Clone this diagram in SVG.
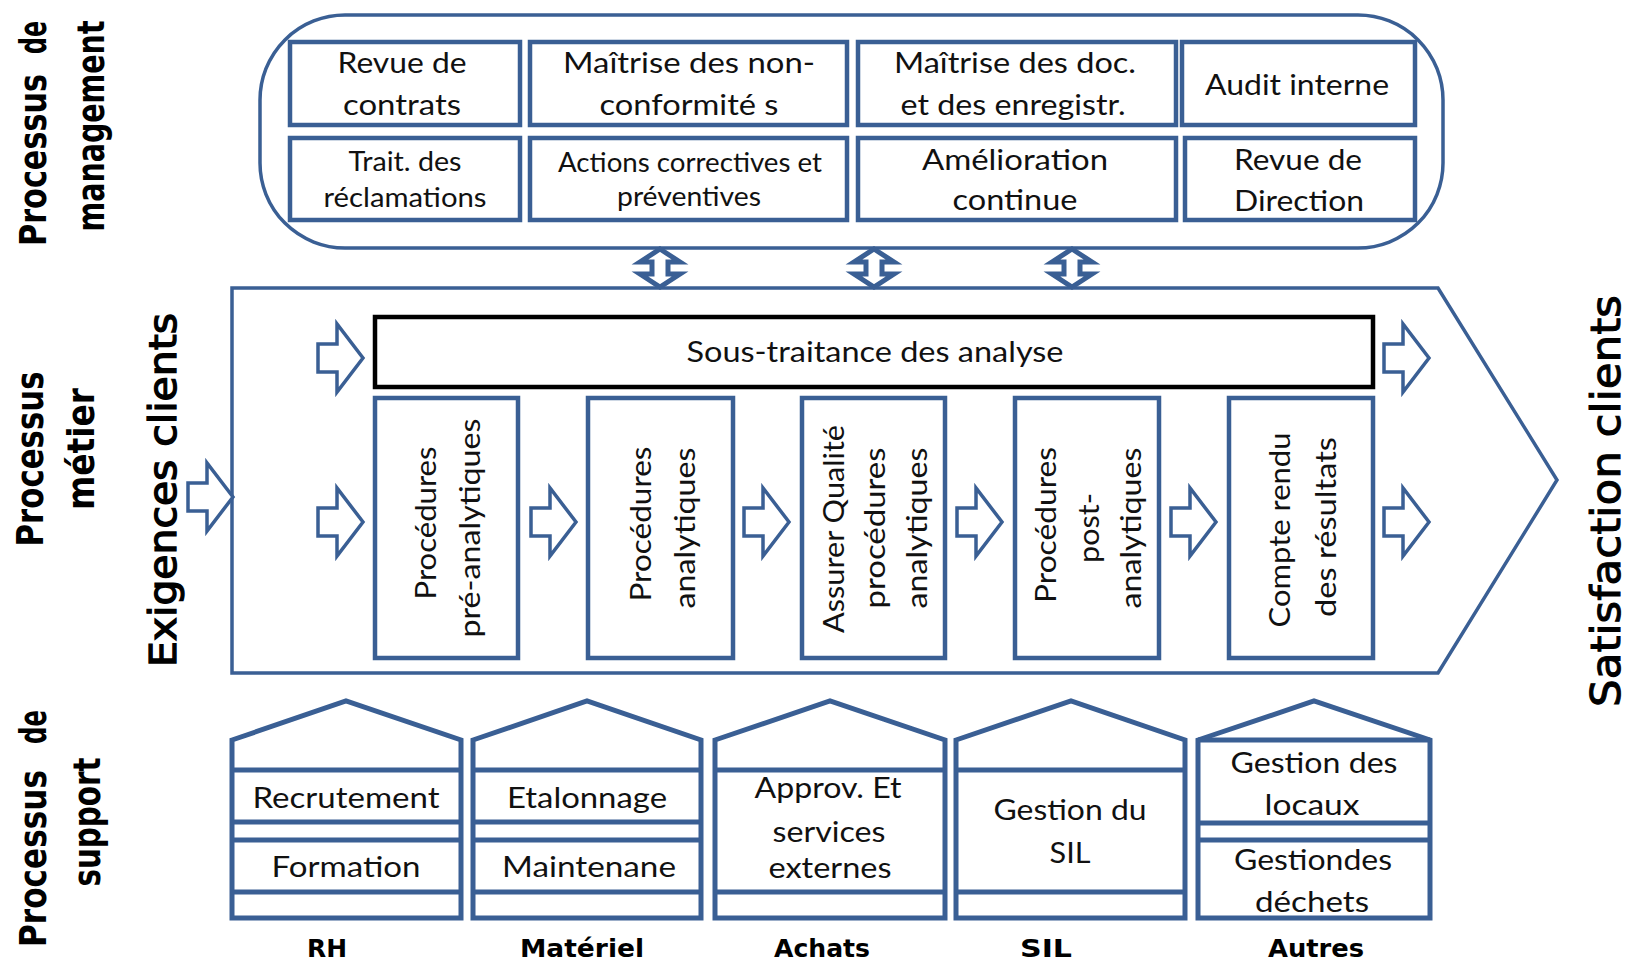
<svg xmlns="http://www.w3.org/2000/svg" width="1630" height="964" viewBox="0 0 1630 964">
<style>
.bg{fill:#fff}
.box{fill:#fff;stroke:#3A5F94;stroke-width:4.5}
.outer{fill:none;stroke:#3A5F94;stroke-width:3.5}
.blk{fill:#fff;stroke:#000;stroke-width:4.5}
.house{fill:#fff;stroke:#3A5F94;stroke-width:5;stroke-linejoin:miter}
.hl{stroke:#3A5F94;stroke-width:5}
.arr{fill:#fff;stroke:#3A5F94;stroke-width:3.5;stroke-linejoin:miter}
.darr{fill:#fff;stroke:#3A5F94;stroke-width:5;stroke-linejoin:miter}
.t{font-family:Lato,"Liberation Sans",sans-serif;font-size:29px;fill:#111;text-anchor:middle}
.s{font-size:26px}
.lb{font-family:"DejaVu Sans",sans-serif;font-weight:bold;font-size:38px;fill:#000}
.big{font-family:"DejaVu Sans",sans-serif;fill:#000;text-anchor:middle}
.hd{font-family:"DejaVu Sans",sans-serif;font-weight:bold;font-size:24px;fill:#000;text-anchor:middle}
</style>
<defs>
<path id="rarrow" d="M0,-14 H19 V-34 L45,0 L19,34 V14 H0 Z"/>
<path id="udarrow" d="M0,-19 L20,-6 H8 V6 H20 L0,19 L-20,6 H-8 V-6 H-20 Z"/>
</defs>
<rect class="bg" x="0" y="0" width="1630" height="964"/>

<!-- Side labels -->
<g id="label-management">
<text class="lb" transform="translate(46,246) rotate(-90)" textLength="172" lengthAdjust="spacingAndGlyphs">Processus</text>
<text class="lb" transform="translate(46,54) rotate(-90)" textLength="33" lengthAdjust="spacingAndGlyphs">de</text>
<text class="lb" text-anchor="middle" transform="translate(104,126) rotate(-90) scale(0.75,1)">management</text>
</g>
<g id="label-metier">
<text class="lb" text-anchor="middle" transform="translate(43,459) rotate(-90)" textLength="175" lengthAdjust="spacingAndGlyphs">Processus</text>
<text class="lb" text-anchor="middle" transform="translate(94,449) rotate(-90)" textLength="122" lengthAdjust="spacingAndGlyphs">métier</text>
</g>
<g id="label-support">
<text class="lb" transform="translate(46,947) rotate(-90)" textLength="177" lengthAdjust="spacingAndGlyphs">Processus</text>
<text class="lb" transform="translate(46,744) rotate(-90)" textLength="34" lengthAdjust="spacingAndGlyphs">de</text>
<text class="lb" text-anchor="middle" transform="translate(100,822) rotate(-90)" textLength="129" lengthAdjust="spacingAndGlyphs">support</text>
</g>
<g id="label-exigences">
<text class="big" style="font-size:37px" transform="translate(176,490) rotate(-90)" textLength="354" lengthAdjust="spacingAndGlyphs" stroke="#000" stroke-width="1.3">Exigences clients</text>
</g>
<g id="label-satisfaction">
<text class="big" style="font-size:41px" transform="translate(1620,501) rotate(-90)" textLength="412" lengthAdjust="spacingAndGlyphs" stroke="#000" stroke-width="1">Satisfaction clients</text>
</g>

<!-- Management -->
<g id="management">
<rect class="outer" x="260" y="15" width="1183" height="233" rx="85" ry="85"/>
</g>
<g id="revue-contrats">
<rect class="box" x="290" y="42" width="230" height="83"/>
<text class="t" x="402" y="73" textLength="129" lengthAdjust="spacingAndGlyphs">Revue de</text>
<text class="t" x="402" y="115" textLength="118" lengthAdjust="spacingAndGlyphs">contrats</text>
</g>
<g id="maitrise-nc">
<rect class="box" x="530" y="42" width="317" height="83"/>
<text class="t" x="689" y="73" textLength="252" lengthAdjust="spacingAndGlyphs">Maîtrise des non-</text>
<text class="t" x="689" y="115" textLength="179" lengthAdjust="spacingAndGlyphs">conformité s</text>
</g>
<g id="maitrise-doc">
<rect class="box" x="858" y="42" width="318" height="83"/>
<text class="t" x="1015" y="73" textLength="242" lengthAdjust="spacingAndGlyphs">Maîtrise des doc.</text>
<text class="t" x="1013" y="115" textLength="225" lengthAdjust="spacingAndGlyphs">et des enregistr.</text>
</g>
<g id="audit-interne">
<rect class="box" x="1182" y="42" width="233" height="83"/>
<text class="t" x="1297" y="95" textLength="184" lengthAdjust="spacingAndGlyphs">Audit interne</text>
</g>
<g id="trait-reclamations">
<rect class="box" x="290" y="138" width="230" height="82"/>
<text class="t s" x="405" y="171" textLength="113" lengthAdjust="spacingAndGlyphs">Trait. des</text>
<text class="t s" x="405" y="207" textLength="163" lengthAdjust="spacingAndGlyphs">réclamations</text>
</g>
<g id="actions-correctives">
<rect class="box" x="530" y="138" width="317" height="82"/>
<text class="t s" x="690" y="172" textLength="264" lengthAdjust="spacingAndGlyphs">Actions correctives et</text>
<text class="t s" x="689" y="206" textLength="144" lengthAdjust="spacingAndGlyphs">préventives</text>
</g>
<g id="amelioration">
<rect class="box" x="858" y="138" width="318" height="82"/>
<text class="t" x="1015" y="170" textLength="186" lengthAdjust="spacingAndGlyphs">Amélioration</text>
<text class="t" x="1015" y="210" textLength="125" lengthAdjust="spacingAndGlyphs">continue</text>
</g>
<g id="revue-direction">
<rect class="box" x="1185" y="138" width="230" height="82"/>
<text class="t" x="1298" y="170" textLength="128" lengthAdjust="spacingAndGlyphs">Revue de</text>
<text class="t" x="1299" y="211" textLength="130" lengthAdjust="spacingAndGlyphs">Direction</text>
</g>

<!-- Métier -->
<g id="metier">
<path class="outer" d="M232,288 H1438 L1557,480 L1438,673 H232 Z"/>
</g>
<g id="sous-traitance">
<rect class="blk" x="375" y="317" width="998" height="70"/>
<text class="t" x="875" y="362" textLength="377" lengthAdjust="spacingAndGlyphs">Sous-traitance des analyse</text>
</g>
<g id="pre-analytiques">
<rect class="box" x="375" y="398" width="143" height="260"/>
<text class="t" transform="translate(436,523) rotate(-90)" textLength="153" lengthAdjust="spacingAndGlyphs">Procédures</text>
<text class="t" transform="translate(480,528) rotate(-90)" textLength="219" lengthAdjust="spacingAndGlyphs">pré-analytiques</text>
</g>
<g id="analytiques">
<rect class="box" x="588" y="398" width="145" height="260"/>
<text class="t" transform="translate(651,524) rotate(-90)" textLength="155" lengthAdjust="spacingAndGlyphs">Procédures</text>
<text class="t" transform="translate(695,528) rotate(-90)" textLength="161" lengthAdjust="spacingAndGlyphs">analytiques</text>
</g>
<g id="assurer-qualite">
<rect class="box" x="802" y="398" width="143" height="260"/>
<text class="t" transform="translate(844,529) rotate(-90)" textLength="208" lengthAdjust="spacingAndGlyphs">Assurer Qualité</text>
<text class="t" transform="translate(885,528) rotate(-90)" textLength="161" lengthAdjust="spacingAndGlyphs">procédures</text>
<text class="t" transform="translate(927,528) rotate(-90)" textLength="161" lengthAdjust="spacingAndGlyphs">analytiques</text>
</g>
<g id="post-analytiques">
<rect class="box" x="1015" y="398" width="144" height="260"/>
<text class="t" transform="translate(1056,525) rotate(-90)" textLength="156" lengthAdjust="spacingAndGlyphs">Procédures</text>
<text class="t" transform="translate(1099,528) rotate(-90)" textLength="70" lengthAdjust="spacingAndGlyphs">post-</text>
<text class="t" transform="translate(1141,528) rotate(-90)" textLength="161" lengthAdjust="spacingAndGlyphs">analytiques</text>
</g>
<g id="compte-rendu">
<rect class="box" x="1229" y="398" width="144" height="260"/>
<text class="t" transform="translate(1290,530) rotate(-90)" textLength="195" lengthAdjust="spacingAndGlyphs">Compte rendu</text>
<text class="t" transform="translate(1336,527) rotate(-90)" textLength="180" lengthAdjust="spacingAndGlyphs">des résultats</text>
</g>

<!-- Support -->
<g id="rh">
<path class="house" d="M232,740 L346,701 L461,740 V918 H232 Z"/>
<line class="hl" x1="232" y1="770" x2="461" y2="770"/>
<line class="hl" x1="232" y1="822" x2="461" y2="822"/>
<line class="hl" x1="232" y1="840" x2="461" y2="840"/>
<line class="hl" x1="232" y1="892" x2="461" y2="892"/>
<text class="t" x="346" y="808" textLength="187" lengthAdjust="spacingAndGlyphs">Recrutement</text>
<text class="t" x="346" y="877" textLength="149" lengthAdjust="spacingAndGlyphs">Formation</text>
<text class="hd" x="327" y="957" textLength="40" lengthAdjust="spacingAndGlyphs">RH</text>
</g>
<g id="materiel">
<path class="house" d="M473,740 L587,701 L701,740 V918 H473 Z"/>
<line class="hl" x1="473" y1="770" x2="701" y2="770"/>
<line class="hl" x1="473" y1="822" x2="701" y2="822"/>
<line class="hl" x1="473" y1="840" x2="701" y2="840"/>
<line class="hl" x1="473" y1="892" x2="701" y2="892"/>
<text class="t" x="587" y="808" textLength="160" lengthAdjust="spacingAndGlyphs">Etalonnage</text>
<text class="t" x="589" y="877" textLength="174" lengthAdjust="spacingAndGlyphs">Maintenane</text>
<text class="hd" x="582" y="957" textLength="124" lengthAdjust="spacingAndGlyphs">Matériel</text>
</g>
<g id="achats">
<path class="house" d="M715,740 L830,701 L945,740 V918 H715 Z"/>
<line class="hl" x1="715" y1="770" x2="945" y2="770"/>
<line class="hl" x1="715" y1="892" x2="945" y2="892"/>
<text class="t" x="828" y="798" textLength="147" lengthAdjust="spacingAndGlyphs">Approv. Et</text>
<text class="t" x="829" y="842" textLength="113" lengthAdjust="spacingAndGlyphs">services</text>
<text class="t" x="830" y="878" textLength="123" lengthAdjust="spacingAndGlyphs">externes</text>
<text class="hd" x="822" y="957" textLength="96" lengthAdjust="spacingAndGlyphs">Achats</text>
</g>
<g id="sil">
<path class="house" d="M956,740 L1071,701 L1185,740 V918 H956 Z"/>
<line class="hl" x1="956" y1="770" x2="1185" y2="770"/>
<line class="hl" x1="956" y1="892" x2="1185" y2="892"/>
<text class="t" x="1070" y="820" textLength="153" lengthAdjust="spacingAndGlyphs">Gestion du</text>
<text class="t" x="1070" y="863" textLength="41" lengthAdjust="spacingAndGlyphs">SIL</text>
<text class="hd" x="1046" y="957" textLength="52" lengthAdjust="spacingAndGlyphs">SIL</text>
</g>
<g id="autres">
<path class="house" d="M1198,740 L1314,701 L1430,740 V918 H1198 Z"/>
<line class="hl" x1="1198" y1="740" x2="1430" y2="740"/>
<line class="hl" x1="1198" y1="823" x2="1430" y2="823"/>
<line class="hl" x1="1198" y1="840" x2="1430" y2="840"/>
<text class="t" x="1314" y="773" textLength="167" lengthAdjust="spacingAndGlyphs">Gestion des</text>
<text class="t" x="1312" y="815" textLength="95" lengthAdjust="spacingAndGlyphs">locaux</text>
<text class="t" x="1313" y="870" textLength="158" lengthAdjust="spacingAndGlyphs">Gestiondes</text>
<text class="t" x="1312" y="912" textLength="114" lengthAdjust="spacingAndGlyphs">déchets</text>
<text class="hd" x="1316" y="957" textLength="96" lengthAdjust="spacingAndGlyphs">Autres</text>
</g>

<!-- Connectors -->
<g id="connectors">
<use href="#udarrow" class="darr" x="660" y="268"/>
<use href="#udarrow" class="darr" x="874" y="268"/>
<use href="#udarrow" class="darr" x="1072" y="268"/>
<use href="#rarrow" class="arr" x="188" y="497"/>
<use href="#rarrow" class="arr" x="318" y="358"/>
<use href="#rarrow" class="arr" x="318" y="522"/>
<use href="#rarrow" class="arr" x="531" y="522"/>
<use href="#rarrow" class="arr" x="744" y="522"/>
<use href="#rarrow" class="arr" x="957" y="522"/>
<use href="#rarrow" class="arr" x="1171" y="522"/>
<use href="#rarrow" class="arr" x="1384" y="522"/>
<use href="#rarrow" class="arr" x="1384" y="358"/>
</g>
</svg>
